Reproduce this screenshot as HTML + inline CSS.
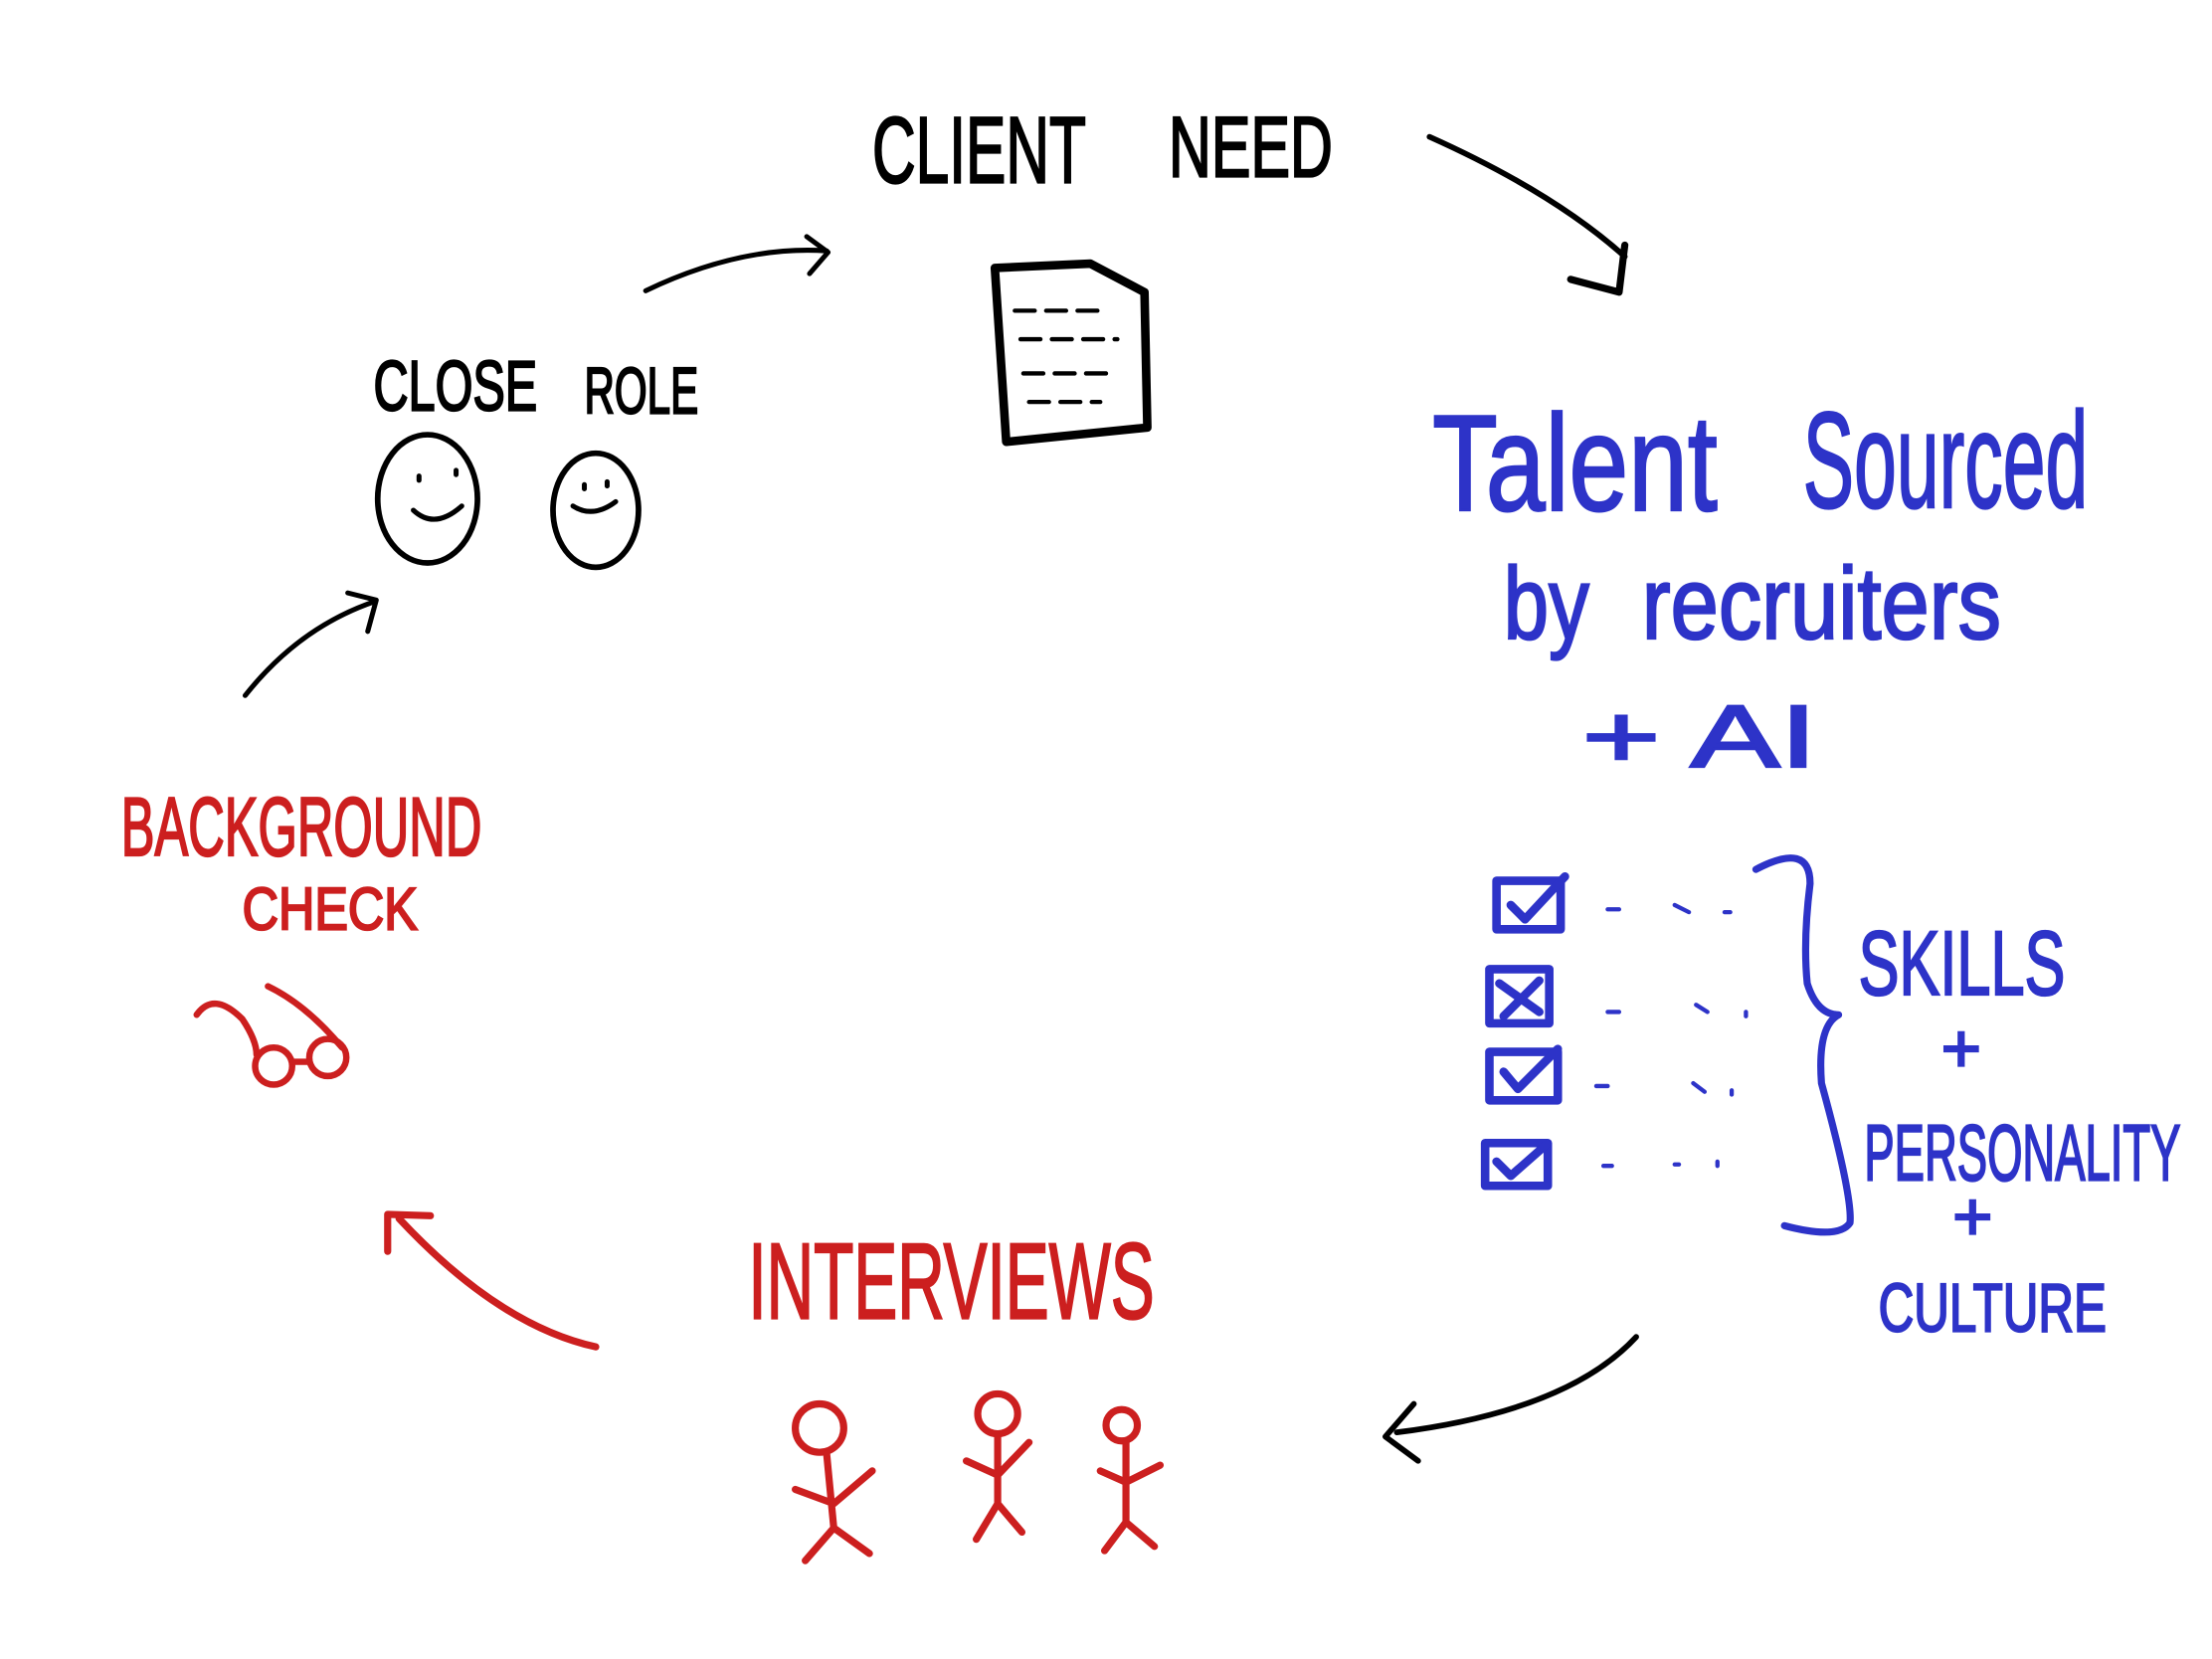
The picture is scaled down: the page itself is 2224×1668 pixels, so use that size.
<!DOCTYPE html>
<html><head><meta charset="utf-8"><style>
html,body{margin:0;padding:0;background:#fff;}
svg{display:block}
text{font-family:"Liberation Sans",sans-serif;stroke-width:1.6;}
</style></head><body>
<svg width="2224" height="1668" viewBox="0 0 1552 1164" xmlns="http://www.w3.org/2000/svg">
<g fill="none" stroke-linecap="round" stroke-linejoin="round">
<path d="M1003 96 Q1090 135 1140 180" stroke="#000" stroke-width="4"/>
<path d="M1140 172 L1136 205 L1102 196" stroke="#000" stroke-width="5"/>
<path d="M453 204 Q520 172 580 176" stroke="#000" stroke-width="3.5"/>
<path d="M566 166 L581 177 L568 192" stroke="#000" stroke-width="3.5"/>
<path d="M172 488 Q210 440 263 422" stroke="#000" stroke-width="3.5"/>
<path d="M244 416 L264 421 L258 443" stroke="#000" stroke-width="3.5"/>
<path d="M1148 938 Q1100 990 980 1005" stroke="#000" stroke-width="4"/>
<path d="M992 985 L972 1008 L995 1025" stroke="#000" stroke-width="4"/>
<path d="M698 188 L765 185 L803 205 L805 300 L706 310 Z" stroke="#000" stroke-width="6"/>
<path d="M712 218 h60 M716 238 h68 M718 262 h64 M722 282 h50" stroke="#000" stroke-width="3" stroke-dasharray="14 8"/>
<ellipse cx="300" cy="350" rx="35" ry="45" stroke="#000" stroke-width="4"/>
<ellipse cx="418" cy="358" rx="30" ry="40" stroke="#000" stroke-width="4"/>
<path d="M294 334 v3 M320 330 v3 M290 358 Q305 372 324 355" stroke="#000" stroke-width="3.5"/>
<path d="M410 340 v3 M426 338 v3 M402 355 Q416 364 432 352" stroke="#000" stroke-width="3.5"/>
<g stroke="#2d33c8" stroke-width="6">
<rect x="1050" y="618" width="45" height="34"/>
<path d="M1060 635 l10 10 l28 -30"/>
<rect x="1045" y="680" width="42" height="38"/>
<path d="M1052 690 l28 20 M1080 688 l-25 25"/>
<rect x="1045" y="738" width="48" height="34"/>
<path d="M1055 752 l10 12 l28 -28"/>
<rect x="1042" y="802" width="44" height="30"/>
<path d="M1050 815 l10 10 l25 -22"/>
<path d="M1128 638 h8 M1175 635 l10 5 M1210 640 h4 M1128 710 h8 M1190 705 l8 5 M1225 710 v3 M1120 762 h8 M1188 760 l8 6 M1215 765 v3 M1125 818 h6 M1175 817 h3 M1205 815 v3" stroke-width="3"/>
<path d="M1232 610 Q1270 590 1270 620 Q1265 660 1268 690 Q1275 712 1290 712 Q1275 720 1278 760 Q1300 840 1298 858 Q1290 870 1252 860" stroke-width="5"/>
</g>
<path d="M418 945 Q350 930 280 855" stroke="#cc1f1f" stroke-width="5"/>
<path d="M272 878 L272 852 L302 853" stroke="#cc1f1f" stroke-width="5"/>
<g stroke="#cc1f1f" stroke-width="4.5">
<path d="M138 712 Q150 695 170 715 Q180 730 180 740"/>
<circle cx="192" cy="748" r="13"/>
<circle cx="230" cy="742" r="13"/>
<path d="M205 745 h12 M188 692 Q215 705 240 735"/>
</g>
<g stroke="#cc1f1f" stroke-width="5">
<circle cx="575" cy="1002" r="17"/>
<path d="M580 1020 L585 1072 L565 1095 M585 1072 L610 1090 M558 1045 L585 1055 L612 1032"/>
<circle cx="700" cy="992" r="14"/>
<path d="M700 1008 L700 1055 L685 1080 M700 1055 L717 1075 M678 1025 L700 1035 L722 1012"/>
<circle cx="787" cy="1000" r="11"/>
<path d="M790 1012 L790 1068 L775 1088 M790 1068 L810 1085 M772 1032 L790 1040 L814 1028"/>
</g>
</g>
<g>
<text x="612" y="128" font-size="66" textLength="150" lengthAdjust="spacingAndGlyphs" fill="#000" stroke="#000">CLIENT</text>
<text x="820" y="124" font-size="60" textLength="115" lengthAdjust="spacingAndGlyphs" fill="#000" stroke="#000">NEED</text>
<text x="262" y="288" font-size="50" textLength="115" lengthAdjust="spacingAndGlyphs" fill="#000" stroke="#000">CLOSE</text>
<text x="410" y="290" font-size="46" textLength="80" lengthAdjust="spacingAndGlyphs" fill="#000" stroke="#000">ROLE</text>
<text x="1005" y="358" font-size="96" textLength="200" lengthAdjust="spacingAndGlyphs" fill="#2d33c8" stroke="#2d33c8">Talent</text>
<text x="1265" y="356" font-size="96" textLength="200" lengthAdjust="spacingAndGlyphs" fill="#2d33c8" stroke="#2d33c8">Sourced</text>
<text x="1055" y="448" font-size="72" textLength="60" lengthAdjust="spacingAndGlyphs" fill="#2d33c8" stroke="#2d33c8">by</text>
<text x="1152" y="448" font-size="72" textLength="252" lengthAdjust="spacingAndGlyphs" fill="#2d33c8" stroke="#2d33c8">recruiters</text>
<text x="1110" y="538" font-size="62" textLength="165" lengthAdjust="spacingAndGlyphs" fill="#2d33c8" stroke="#2d33c8">+ AI</text>
<text x="1304" y="698" font-size="64" textLength="145" lengthAdjust="spacingAndGlyphs" fill="#2d33c8" stroke="#2d33c8">SKILLS</text>
<text x="1362" y="752" font-size="48" fill="#2d33c8" stroke="#2d33c8">+</text>
<text x="1308" y="828" font-size="56" textLength="222" lengthAdjust="spacingAndGlyphs" fill="#2d33c8" stroke="#2d33c8">PERSONALITY</text>
<text x="1370" y="870" font-size="48" fill="#2d33c8" stroke="#2d33c8">+</text>
<text x="1318" y="934" font-size="48" textLength="160" lengthAdjust="spacingAndGlyphs" fill="#2d33c8" stroke="#2d33c8">CULTURE</text>
<text x="85" y="600" font-size="58" textLength="253" lengthAdjust="spacingAndGlyphs" fill="#cc1f1f" stroke="#cc1f1f">BACKGROUND</text>
<text x="170" y="652" font-size="42" textLength="123" lengthAdjust="spacingAndGlyphs" fill="#cc1f1f" stroke="#cc1f1f">CHECK</text>
<text x="525" y="925" font-size="76" textLength="285" lengthAdjust="spacingAndGlyphs" fill="#cc1f1f" stroke="#cc1f1f">INTERVIEWS</text>
</g>
</svg>
</body></html>
